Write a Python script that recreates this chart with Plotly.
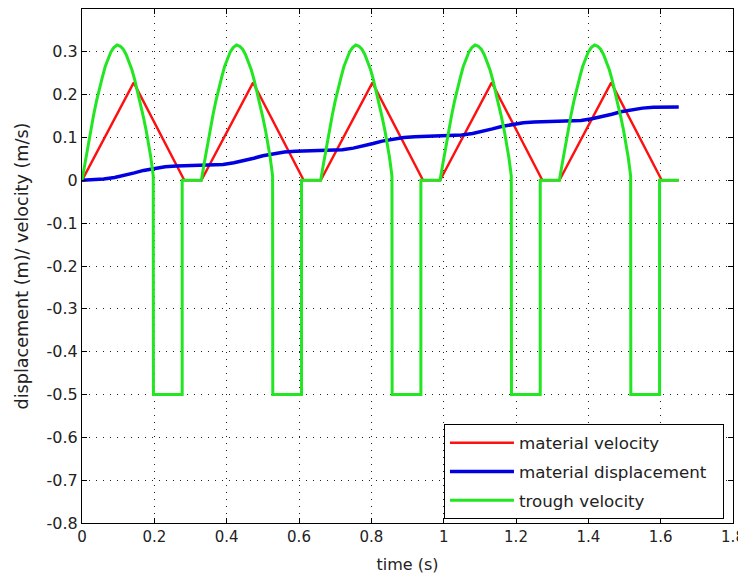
import plotly.graph_objects as go

# ---- data (time in s) ----
CYCLE_START = [0.0, 0.33, 0.66, 0.99, 1.32]   # start of each conveying cycle

# material velocity (m/s), one cycle: offset from cycle start / value
MV_DT = [0.0, 0.143, 0.283, 0.33]
MV_V = [0.0, 0.228, 0.0, 0.0]

# trough velocity (m/s), one cycle: offset from cycle start / value
TV_DT = [0.0, 0.008, 0.016, 0.024, 0.032, 0.04, 0.048, 0.056, 0.064, 0.072,
         0.08, 0.088, 0.097, 0.106, 0.114, 0.122, 0.13, 0.138, 0.146, 0.154,
         0.162, 0.17, 0.178, 0.185, 0.19, 0.194, 0.197, 0.1975, 0.277, 0.277, 0.33]
TV_V = [0.0, 0.04, 0.08, 0.117, 0.152, 0.185, 0.215, 0.24, 0.265, 0.285,
        0.30, 0.31, 0.316, 0.313, 0.306, 0.294, 0.278, 0.258, 0.234, 0.207,
        0.178, 0.147, 0.114, 0.082, 0.055, 0.03, 0.01, -0.5, -0.5, 0.0, 0.0]

# material displacement (m): level at each cycle start and rise within a cycle
MD_BASE = [0.0, 0.0342, 0.0684, 0.1026, 0.1368]
MD_DT = [0.0, 0.03, 0.06, 0.09, 0.12, 0.145, 0.17, 0.2, 0.23, 0.26, 0.283, 0.33]
MD_INC = [0.0, 0.0008, 0.003, 0.0068, 0.012, 0.0175, 0.0232, 0.0283, 0.0318,
          0.0336, 0.0342, 0.0342]

X_TICKS = [0, 0.2, 0.4, 0.6, 0.8, 1.0, 1.2, 1.4, 1.6, 1.8]
X_LABELS = ["0", "0.2", "0.4", "0.6", "0.8", "1", "1.2", "1.4", "1.6", "1.8"]
Y_TICKS = [-0.8, -0.7, -0.6, -0.5, -0.4, -0.3, -0.2, -0.1, 0, 0.1, 0.2, 0.3]
Y_LABELS = ["-0.8", "-0.7", "-0.6", "-0.5", "-0.4", "-0.3", "-0.2", "-0.1",
            "0", "0.1", "0.2", "0.3"]
SERIES_NAMES = ["material velocity", "material displacement", "trough velocity"]


def repeat_profile(starts, dts, vals, bases=None):
    xs, ys = [], []
    for i, s in enumerate(starts):
        b = bases[i] if bases is not None else 0.0
        for dt, v in zip(dts, vals):
            xs.append(s + dt)
            ys.append(b + v)
    return xs, ys


mv_x, mv_y = repeat_profile(CYCLE_START, MV_DT, MV_V)
md_x, md_y = repeat_profile(CYCLE_START, MD_DT, MD_INC, MD_BASE)
tv_x, tv_y = repeat_profile(CYCLE_START, TV_DT, TV_V)

FONT = "DejaVu Sans"
TXT = "#222222"
PAD = "\u00a0\u00a0"

fig = go.Figure()
fig.add_trace(go.Scatter(x=mv_x, y=mv_y, mode="lines", name=SERIES_NAMES[0] + PAD,
                         legendgroup="a", line=dict(color="#ff1010", width=2.4)))
fig.add_trace(go.Scatter(x=md_x, y=md_y, mode="lines", name=SERIES_NAMES[1] + PAD,
                         legendgroup="b", line=dict(color="#0000e0", width=3.5)))
fig.add_trace(go.Scatter(x=tv_x, y=tv_y, mode="lines", name=SERIES_NAMES[2] + PAD,
                         legendgroup="c", line=dict(color="#22e622", width=3)))

axis_common = dict(
    showline=True, linecolor="#000000", linewidth=1, mirror="allticks",
    ticks="inside", ticklen=5, tickcolor="#000000",
    showgrid=True, gridcolor="#222222", gridwidth=1, griddash="1px,6px",
    zeroline=False,
)

fig.update_xaxes(range=[0, 1.8], tickvals=X_TICKS, ticktext=X_LABELS,
                 tickfont=dict(family=FONT, size=15, color=TXT),
                 title=dict(text="time (s)", font=dict(family=FONT, size=16, color=TXT),
                            standoff=13),
                 **axis_common)
fig.update_yaxes(range=[-0.8, 0.4], tickvals=Y_TICKS, ticktext=Y_LABELS,
                 tickfont=dict(family=FONT, size=16, color=TXT),
                 title=dict(text="displacement (m)/ velocity (m/s)",
                            font=dict(family=FONT, size=17.6, color=TXT),
                            standoff=13),
                 **axis_common)

fig.update_layout(
    width=738, height=581,
    margin=dict(l=74, r=13, t=1, b=66, autoexpand=False),
    paper_bgcolor="#ffffff", plot_bgcolor="#ffffff",
    showlegend=True,
    legend=dict(x=0.556, xanchor="left", y=0.007, yanchor="bottom",
                bgcolor="#ffffff", bordercolor="#000000", borderwidth=1,
                font=dict(family=FONT, size=16.7, color=TXT),
                traceorder="grouped", tracegroupgap=4, itemwidth=64),
)

fig.write_html("out.html")
